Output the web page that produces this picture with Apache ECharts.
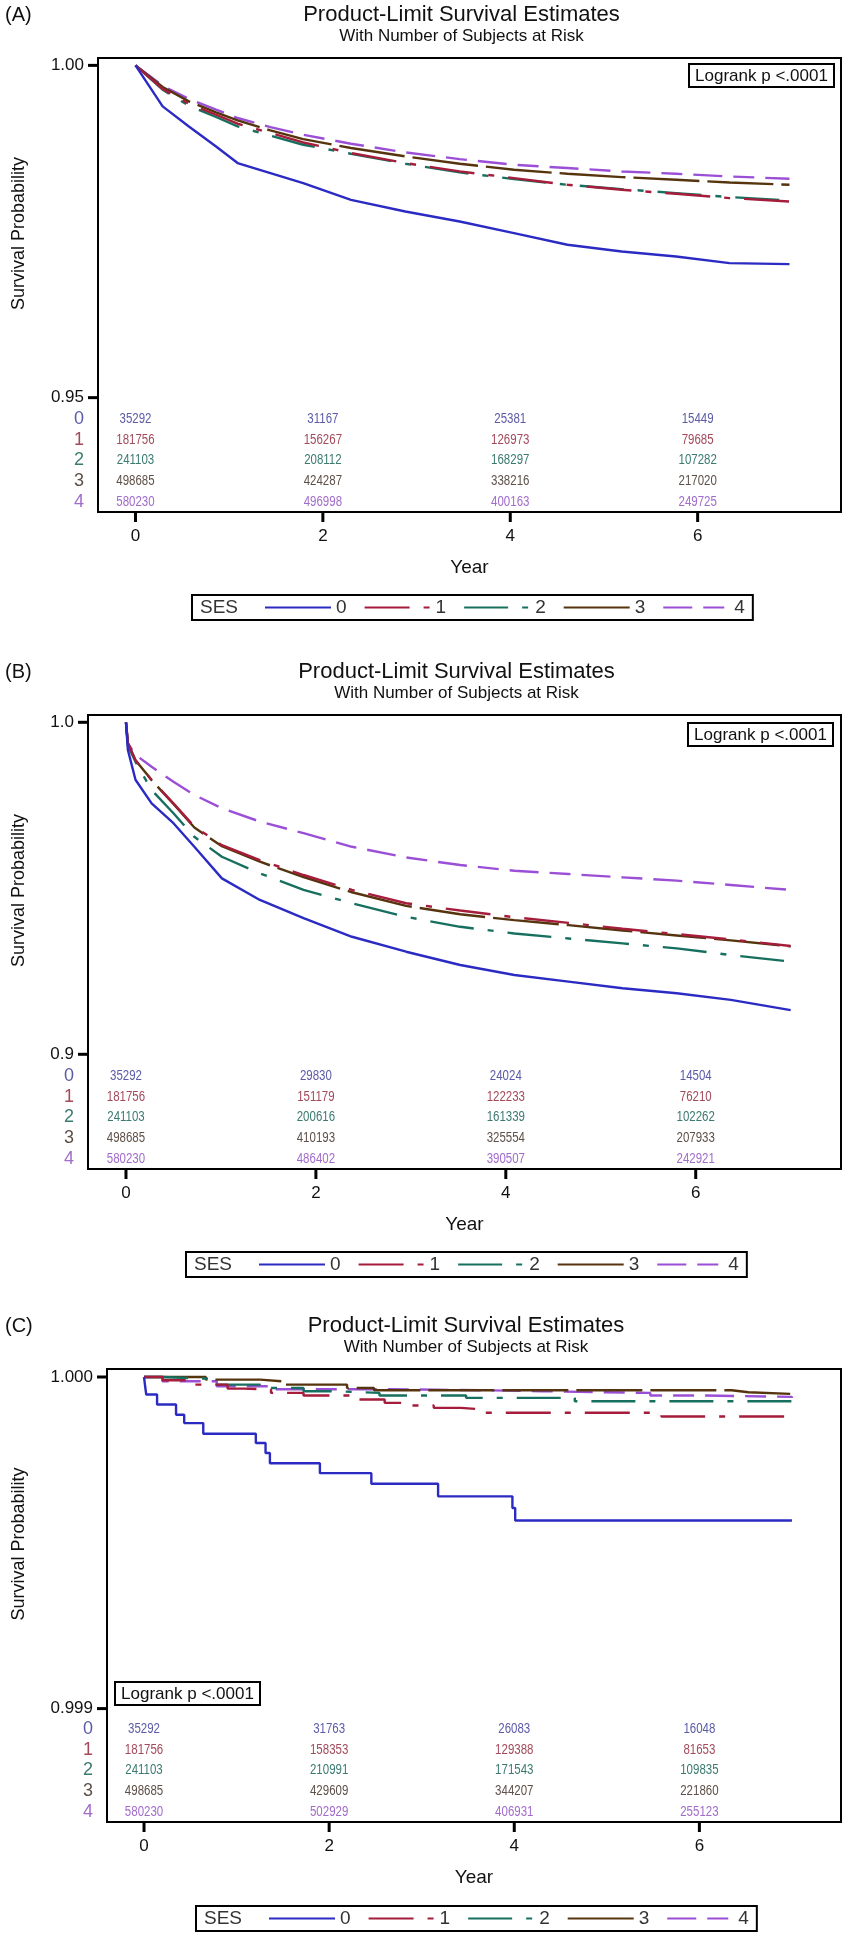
<!DOCTYPE html>
<html>
<head>
<meta charset="utf-8">
<title>Product-Limit Survival Estimates</title>
<script src="https://cdn.jsdelivr.net/npm/echarts@6.0.0/dist/echarts.min.js"></script>
<style>
html, body { margin: 0; padding: 0; background: #fff; }
#main { width: 851px; height: 1940px; }
</style>
</head>
<body>
<div id="main"></div>
<script>
// ---------------- data ----------------
var sesGroups = ['0', '1', '2', '3', '4'];
var yearTicks = [0, 2, 4, 6];
var riskYears = [0, 2, 4, 6];

// (A)
var yearsA = [0, 0.29, 0.57, 0.86, 1.09, 1.44, 1.79, 2.30, 2.88, 3.46, 4.04, 4.61, 5.19, 5.77, 6.34, 6.98];
var survA0 = [1.0, 0.99383, 0.99081, 0.98780, 0.98530, 0.98380, 0.98229, 0.97977, 0.97801, 0.97651, 0.97476, 0.97300, 0.97199, 0.97124, 0.97024, 0.97009];
var survA1 = [1.0, 0.99644, 0.99423, 0.99257, 0.99122, 0.98982, 0.98840, 0.98681, 0.98530, 0.98404, 0.98304, 0.98203, 0.98128, 0.98068, 0.98003, 0.97952];
var survA2 = [1.0, 0.99634, 0.99393, 0.99223, 0.99081, 0.98941, 0.98806, 0.98670, 0.98520, 0.98389, 0.98289, 0.98203, 0.98138, 0.98078, 0.98018, 0.97967];
var survA3 = [1.0, 0.99674, 0.99458, 0.99292, 0.99172, 0.99021, 0.98891, 0.98756, 0.98630, 0.98520, 0.98429, 0.98369, 0.98319, 0.98279, 0.98238, 0.98203];
var survA4 = [1.0, 0.99694, 0.99494, 0.99333, 0.99208, 0.99072, 0.98956, 0.98821, 0.98690, 0.98590, 0.98505, 0.98455, 0.98404, 0.98369, 0.98328, 0.98294];
var riskA = [
    [35292, 31167, 25381, 15449],
    [181756, 156267, 126973, 79685],
    [241103, 208112, 168297, 107282],
    [498685, 424287, 338216, 217020],
    [580230, 496998, 400163, 249725]
];
var yTicksA = [0.95, 1.00];

// (B)
var yearsB = [0, 0.02, 0.10, 0.27, 0.50, 0.72, 1.01, 1.41, 1.87, 2.38, 2.95, 3.52, 4.09, 4.66, 5.23, 5.80, 6.37, 7.0];
var survB0 = [1.0, 0.9917, 0.9827, 0.9756, 0.9696, 0.9625, 0.9530, 0.9465, 0.9410, 0.9354, 0.9309, 0.9269, 0.9239, 0.9219, 0.9199, 0.9184, 0.9164, 0.9133];
var survB1 = [1.0, 0.9937, 0.9886, 0.9826, 0.9756, 0.9686, 0.9630, 0.9585, 0.9540, 0.9495, 0.9455, 0.9433, 0.9413, 0.9396, 0.9378, 0.9362, 0.9346, 0.9326];
var survB2 = [1.0, 0.9930, 0.9881, 0.9796, 0.9726, 0.9655, 0.9595, 0.9545, 0.9495, 0.9455, 0.9414, 0.9384, 0.9364, 0.9349, 0.9334, 0.9319, 0.9299, 0.9279];
var survB3 = [1.0, 0.9937, 0.9886, 0.9826, 0.9754, 0.9683, 0.9627, 0.9580, 0.9534, 0.9488, 0.9447, 0.9422, 0.9404, 0.9389, 0.9373, 0.9358, 0.9343, 0.9325];
var survB4 = [1.0, 0.9937, 0.9902, 0.9866, 0.9821, 0.9781, 0.9741, 0.9701, 0.9666, 0.9625, 0.9593, 0.9570, 0.9553, 0.9543, 0.9533, 0.9523, 0.9510, 0.9495];
var riskB = [
    [35292, 29830, 24024, 14504],
    [181756, 151179, 122233, 76210],
    [241103, 200616, 161339, 102262],
    [498685, 410193, 325554, 207933],
    [580230, 486402, 390507, 242921]
];
var yTicksB = [0.9, 1.0];

// (C) step curves
var timeC0 = [0, 0.012, 0.024, 0.141, 0.346, 0.434, 0.640, 1.208, 1.313, 1.36, 1.90, 2.456, 3.177, 3.98, 4.01, 7.0];
var survC0 = [1.0, 0.999972, 0.999947, 0.999917, 0.999886, 0.999861, 0.999829, 0.999801, 0.999771, 0.99974, 0.99971, 0.999678, 0.99964, 0.999605, 0.999567, 0.999567];
var timeC1 = [0, 0.20, 0.493, 0.903, 1.08, 1.372, 1.723, 2.25, 2.60, 2.78, 3.13, 3.423, 3.658, 5.59, 7.0];
var survC1 = [1.0, 0.99999, 0.999977, 0.999965, 0.999962, 0.999952, 0.999944, 0.999932, 0.999922, 0.999914, 0.999907, 0.999902, 0.999892, 0.999881, 0.999879];
var timeC2 = [0, 0.199, 0.786, 1.255, 1.723, 2.075, 2.544, 3.48, 4.654, 7.0];
var survC2 = [1.0, 0.999994, 0.999977, 0.999967, 0.999957, 0.999952, 0.999944, 0.999937, 0.999927, 0.999922];
var timeC3 = [0, 0.668, 1.255, 1.49, 2.193, 2.485, 6.35, 6.53, 7.0];
var survC3 = [1.0, 0.999992, 0.999987, 0.999977, 0.999967, 0.99996, 0.999954, 0.999949, 0.999949];
var timeC4 = [0, 0.199, 0.786, 1.372, 2.66, 3.716, 4.30, 5.47, 6.06, 7.0];
var survC4 = [1.0, 0.999987, 0.999972, 0.999963, 0.99996, 0.999957, 0.999952, 0.999944, 0.99994, 0.999937];
var riskC = [
    [35292, 31763, 26083, 16048],
    [181756, 158353, 129388, 81653],
    [241103, 210991, 171543, 109835],
    [498685, 429609, 344207, 221860],
    [580230, 502929, 406931, 255123]
];
var yTicksC = [0.999, 1.000];

// ---------------- styles ----------------
var FONT = "'Liberation Sans', Arial, sans-serif";
var sesColors = ['#2B2BC4', '#A51D3A', '#17705F', '#55340E', '#9B4FD6'];
var sesDash = ['solid', [45, 14, 6, 14], [44, 14, 6, 14], [66, 8], [29, 11, 21, 11]];
var riskColors = ['#5B5BA8', '#A24A5A', '#3B7A70', '#5E5048', '#A26CCB'];
var X_MIN = -0.4, X_MAX = 7.53;

var panels = [
    {
        tag: '(A)', grid: {left: 98, top: 58, width: 743, height: 454},
        yMin: 0.93279, yMax: 1.00111, yTicks: yTicksA, dec: 2,
        curves: [[yearsA, survA0], [yearsA, survA1], [yearsA, survA2], [yearsA, survA3], [yearsA, survA4]],
        risk: riskA, step: false,
        legend: {left: 192, top: 595}, logrank: {x: 689, y: 64}
    },
    {
        tag: '(B)', grid: {left: 88, top: 715, width: 753, height: 454},
        yMin: 0.86545, yMax: 1.0022, yTicks: yTicksB, dec: 1,
        curves: [[yearsB, survB0], [yearsB, survB1], [yearsB, survB2], [yearsB, survB3], [yearsB, survB4]],
        risk: riskB, step: false,
        legend: {left: 186, top: 1252}, logrank: {x: 688, y: 723}
    },
    {
        tag: '(C)', grid: {left: 107, top: 1369, width: 734, height: 453},
        yMin: 0.998658, yMax: 1.0000241, yTicks: yTicksC, dec: 3,
        curves: [[timeC0, survC0], [timeC1, survC1], [timeC2, survC2], [timeC3, survC3], [timeC4, survC4]],
        risk: riskC, step: 'end',
        legend: {left: 196, top: 1906}, logrank: {x: 115, y: 1682}
    }
];

var grids = [], xAxes = [], yAxes = [], series = [], legends = [], graphics = [];

panels.forEach(function (p, gi) {
    var g = p.grid;
    var cx = g.left + g.width / 2 - 8;
    grids.push({
        left: g.left, top: g.top, width: g.width, height: g.height,
        show: true, borderColor: '#000', borderWidth: 2, backgroundColor: 'transparent'
    });
    xAxes.push({
        type: 'value', gridIndex: gi, min: X_MIN, max: X_MAX,
        name: 'Year', nameLocation: 'middle', nameGap: 46,
        nameTextStyle: {fontSize: 19, color: '#111', fontFamily: FONT},
        axisLine: {show: false},
        axisTick: {show: false},
        axisLabel: {customValues: yearTicks, margin: 16, fontSize: 17, color: '#111', fontFamily: FONT},
        splitLine: {show: false}
    });
    yAxes.push({
        type: 'value', gridIndex: gi, min: p.yMin, max: p.yMax,
        axisLine: {show: false},
        axisTick: {show: false},
        axisLabel: {
            customValues: p.yTicks, margin: 14, fontSize: 17, color: '#111', fontFamily: FONT,
            formatter: function (v) { return Number(v).toFixed(p.dec); }
        },
        splitLine: {show: false}
    });

    p.curves.forEach(function (c, k) {
        series.push({
            name: sesGroups[k], type: 'line', xAxisIndex: gi, yAxisIndex: gi,
            data: c[0].map(function (t, i) { return [t, c[1][i]]; }),
            showSymbol: false, symbol: 'none', step: p.step,
            lineStyle: {color: sesColors[k], width: 2.4, type: sesDash[k]},
            itemStyle: {color: sesColors[k]},
            animation: false, z: 10 - k
        });
    });

    // number at risk table
    p.risk.forEach(function (row, r) {
        series.push({
            name: 'risk' + gi + '_' + r, type: 'custom', xAxisIndex: gi, yAxisIndex: gi,
            silent: true, animation: false,
            data: riskYears.map(function (t, i) { return [t, row[i]]; }),
            renderItem: function (params, api) {
                var pt = api.coord([api.value(0), p.yMin]);
                return {
                    type: 'text', x: pt[0], y: pt[1] - 93 + r * 20.75, scaleX: 0.82,
                    style: {
                        text: String(api.value(1)), fill: riskColors[r],
                        font: '14px ' + FONT, align: 'center', verticalAlign: 'middle'
                    }
                };
            }
        });
        graphics.push({
            type: 'text', x: g.left - 19, y: g.top + g.height - 93 + r * 20.75,
            style: {text: sesGroups[r], fill: riskColors[r], font: '18px ' + FONT, align: 'center', verticalAlign: 'middle'}
        });
    });

    legends.push({
        data: sesGroups, left: p.legend.left, top: p.legend.top, orient: 'horizontal',
        itemWidth: 66, itemHeight: 12, itemGap: 17, padding: [3, 8, 3, 72],
        borderColor: '#000', borderWidth: 2, selectedMode: false,
        itemStyle: {opacity: 0},
        textStyle: {fontSize: 19, color: '#333', fontFamily: FONT}
    });
    graphics.push({
        type: 'text', x: p.legend.left + 8, y: p.legend.top + 13,
        style: {text: 'SES', fill: '#333', font: '19px ' + FONT, verticalAlign: 'middle'}
    });

    // titles
    graphics.push({
        type: 'text', x: 5, y: g.top - 43,
        style: {text: p.tag, fill: '#111', font: '20px ' + FONT, verticalAlign: 'middle'}
    });
    graphics.push({
        type: 'text', x: cx, y: g.top - 43,
        style: {text: 'Product-Limit Survival Estimates', fill: '#111', font: '22px ' + FONT, align: 'center', verticalAlign: 'middle'}
    });
    graphics.push({
        type: 'text', x: cx, y: g.top - 22,
        style: {text: 'With Number of Subjects at Risk', fill: '#111', font: '17px ' + FONT, align: 'center', verticalAlign: 'middle'}
    });
    graphics.push({
        type: 'text', x: 19, y: (g.top + g.top + g.height - 103) / 2, rotation: Math.PI / 2,
        style: {text: 'Survival Probability', fill: '#111', font: '18px ' + FONT, align: 'center', verticalAlign: 'middle'}
    });

    // logrank box
    graphics.push({
        type: 'rect', shape: {x: p.logrank.x, y: p.logrank.y, width: 145, height: 23},
        style: {fill: '#fff', stroke: '#000', lineWidth: 2}, z: 100
    });
    graphics.push({
        type: 'text', x: p.logrank.x + 72.5, y: p.logrank.y + 12, z: 101,
        style: {text: 'Logrank p <.0001', fill: '#111', font: '17px ' + FONT, align: 'center', verticalAlign: 'middle'}
    });
});

var chart = echarts.init(document.getElementById('main'), null, {renderer: 'canvas'});
chart.setOption({
    backgroundColor: '#fff',
    animation: false,
    textStyle: {fontFamily: FONT},
    grid: grids,
    xAxis: xAxes,
    yAxis: yAxes,
    legend: legends,
    series: series
});

// outward tick marks at the labelled values, placed through the axes
function axisPx(finder, v, lo, hi, a, b) {
    var r = chart.convertToPixel(finder, v);
    if (Array.isArray(r)) r = r[0];
    var lin = a + (v - lo) / (hi - lo) * (b - a);
    if (typeof r !== 'number' || !isFinite(r) || Math.abs(r - lin) > 3) r = lin;
    return r;
}
panels.forEach(function (p, gi) {
    var g = p.grid;
    var bottom = g.top + g.height;
    yearTicks.forEach(function (t) {
        var px = axisPx({xAxisIndex: gi}, t, X_MIN, X_MAX, g.left, g.left + g.width);
        graphics.push({
            type: 'rect', z: 120, shape: {x: px - 1.5, y: bottom, width: 3, height: 10},
            style: {fill: '#000'}
        });
    });
    p.yTicks.forEach(function (v) {
        var py = axisPx({yAxisIndex: gi}, v, p.yMin, p.yMax, bottom, g.top);
        graphics.push({
            type: 'rect', z: 120, shape: {x: g.left - 10, y: py - 1.5, width: 10, height: 3},
            style: {fill: '#000'}
        });
    });
});

chart.setOption({graphic: graphics});
</script>
</body>
</html>
